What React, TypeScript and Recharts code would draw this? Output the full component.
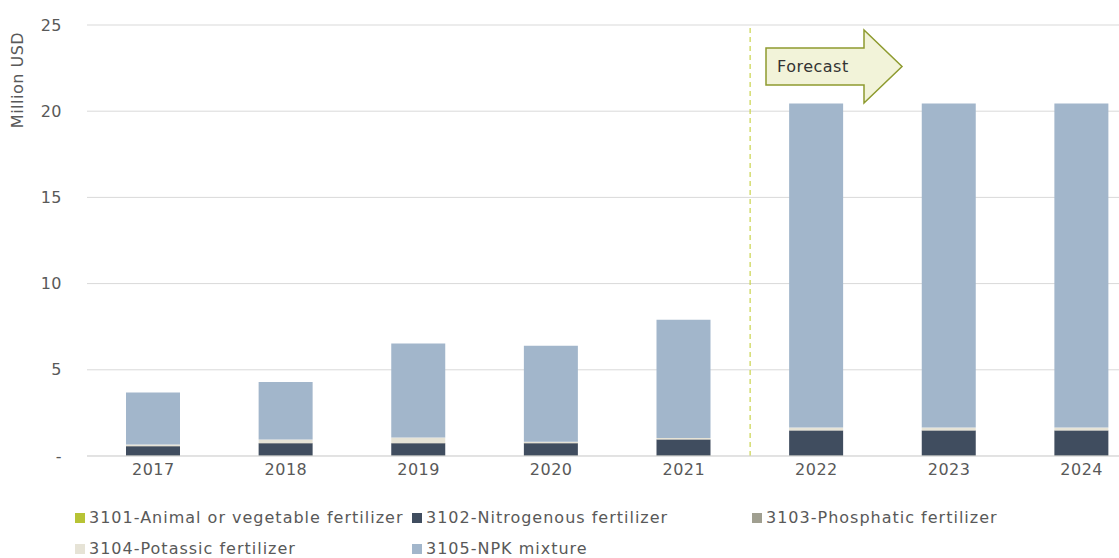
import React from 'react';
import { BarChart, Bar, XAxis, YAxis, CartesianGrid, Legend, ReferenceLine, Label } from 'recharts';

const years = ['2017', '2018', '2019', '2020', '2021', '2022', '2023', '2024'];
const animal = [0.01, 0.01, 0.01, 0.01, 0.01, 0.01, 0.01, 0.01];
const nitrogenous = [0.56, 0.73, 0.73, 0.73, 0.95, 1.47, 1.47, 1.47];
const phosphatic = [0.01, 0.01, 0.01, 0.01, 0.01, 0.01, 0.01, 0.01];
const potassic = [0.08, 0.21, 0.33, 0.08, 0.08, 0.17, 0.17, 0.17];
const npk = [3.02, 3.33, 5.44, 5.57, 6.86, 18.79, 18.79, 18.79];
const yTicks = [0, 5, 10, 15, 20, 25];

const series = [
  { key: 'animal', name: '3101-Animal or vegetable fertilizer', color: '#B7C335' },
  { key: 'nitrogenous', name: '3102-Nitrogenous fertilizer', color: '#404D5F' },
  { key: 'phosphatic', name: '3103-Phosphatic fertilizer', color: '#A09F90' },
  { key: 'potassic', name: '3104-Potassic fertilizer', color: '#E6E3D6' },
  { key: 'npk', name: '3105-NPK mixture', color: '#A2B6CB' },
];

const data = years.map((year, i) => ({
  year,
  animal: animal[i],
  nitrogenous: nitrogenous[i],
  phosphatic: phosphatic[i],
  potassic: potassic[i],
  npk: npk[i],
}));

const FONT = '"DejaVu Sans", sans-serif';
const TEXT = '#595959';

// legend laid out like the Excel one: 3 columns, wrapping to a 2nd row
const LegendGrid = () => (
  <div style={{ display: 'grid', gridTemplateColumns: '337px 340px 340px', rowGap: 12, fontFamily: FONT, fontSize: 16, letterSpacing: 1, color: TEXT }}>
    {series.map((s) => (
      <div key={s.key} style={{ display: 'flex', alignItems: 'center', whiteSpace: 'nowrap', height: 19 }}>
        <span style={{ width: 10, height: 10, background: s.color, marginRight: 4, display: 'inline-block' }} />
        {s.name}
      </div>
    ))}
  </div>
);

export default function App() {
  return (
    <div style={{ position: 'absolute', left: 0, top: 0, width: 1119, height: 558, overflow: 'hidden', background: '#fff' }}>
      <BarChart
        width={1150}
        height={558}
        data={data}
        margin={{ top: 25, right: 2, left: 0, bottom: 24 }}
        style={{ fontFamily: FONT, letterSpacing: 0.5 }}
      >
        <CartesianGrid vertical={false} stroke="#D9D9D9" />
        <XAxis
          dataKey="year"
          axisLine={{ stroke: '#D9D9D9' }}
          tickLine={false}
          height={30}
          tick={{ fontSize: 16, fill: TEXT }}
        />
        <YAxis
          width={87}
          domain={[0, 25]}
          ticks={yTicks}
          axisLine={false}
          tickLine={false}
          tickMargin={19}
          tick={{ fontSize: 16, fill: TEXT }}
          tickFormatter={(v: number) => (v === 0 ? '-' : String(v))}
        >
          <Label
            value="Million USD"
            content={() => (
              <text x={23} y={80} transform="rotate(-90 23 80)" textAnchor="middle" fontSize={16} fill={TEXT}>
                Million USD
              </text>
            )}
          />
        </YAxis>
        {series.map((s) => (
          <Bar key={s.key} dataKey={s.key} name={s.name} stackId="a" fill={s.color} barSize={54} isAnimationActive={false} />
        ))}
        <ReferenceLine x="2022" position="start" stroke="#C9D34B" strokeDasharray="5 4" strokeWidth={1.2} />
        <Legend height={48} content={() => <LegendGrid />} wrapperStyle={{ left: 75, top: 508, width: 1040 }} />
      </BarChart>
      {/* Forecast arrow annotation */}
      <svg width={1119} height={558} style={{ position: 'absolute', left: 0, top: 0, pointerEvents: 'none' }}>
        <polygon
          points="766,48 864,48 864,30 902,66.5 864,103 864,85 766,85"
          fill="#F2F3D9"
          stroke="#8E9B2F"
          strokeWidth={1.5}
        />
        <text x={777} y={72} fontFamily={FONT} fontSize={16} letterSpacing={0.5} fill="#333">Forecast</text>
      </svg>
    </div>
  );
}
